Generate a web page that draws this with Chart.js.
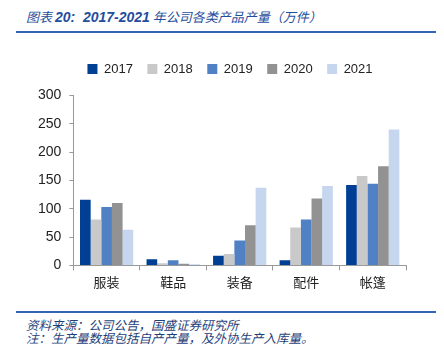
<!DOCTYPE html>
<html>
<head>
  <script src="https://cdn.jsdelivr.net/npm/chart.js"></script>
  <style>
    body { margin: 0; width: 444px; height: 346px; background: #fff; position: relative; font-family: "Noto Sans CJK SC", sans-serif; overflow: hidden; }
    .title { position: absolute; left: 26px; top: 7px; font-size: 13px; font-style: italic; color: #1f4e9e; white-space: nowrap; }
    .title b { font-family: "Liberation Sans", sans-serif; font-size: 14px; }
    .rule { position: absolute; left: 16px; width: 420px; height: 2px; background: #3465b4; }
    .note { position: absolute; left: 26px; font-size: 12.5px; font-style: italic; color: #1f3f7a; white-space: nowrap; }
    #box { position: absolute; left: 0; top: 44px; width: 444px; height: 250px; }
  </style>
</head>
<body>
  <div class="title">图表 <b>20:&nbsp; 2017-2021</b> 年公司各类产品产量（万件）</div>
  <div class="rule" style="top:31px"></div>
  <div id="box"><canvas id="chart"></canvas></div>
  <div class="rule" style="top:311px"></div>
  <div class="note" style="top:315px">资料来源：公司公告，国盛证券研究所</div>
  <div class="note" style="top:328px">注：生产量数据包括自产产量，及外协生产入库量。</div>

  <script>
    const categories = ['服装', '鞋品', '装备', '配件', '帐篷'];
    const years = ['2017', '2018', '2019', '2020', '2021'];
    const v2017 = [116, 11, 17, 9, 142];
    const v2018 = [81, 4, 20, 67, 158];
    const v2019 = [103, 9, 44, 81, 144];
    const v2020 = [110, 3, 71, 118, 175];
    const v2021 = [63, 2, 137, 140, 240];
    const colors = ['#003f94', '#c9c9c9', '#4f81c4', '#929292', '#c5d6ee'];

    const series = [v2017, v2018, v2019, v2020, v2021];

    // extra room under the legend, and nudge it right like the original
    const legendTweak = {
      id: 'legendTweak',
      beforeInit(chart) {
        const fit = chart.legend.fit;
        chart.legend.fit = function () {
          fit.bind(chart.legend)();
          this.height += 10;
        };
      },
      afterLayout(chart) {
        chart.legend.left += 12;
        chart.legend.right += 12;
      }
    };

    new Chart(document.getElementById('chart'), {
      type: 'bar',
      data: {
        labels: categories,
        datasets: years.map((y, i) => ({
          label: y,
          data: series[i],
          backgroundColor: colors[i],
          barPercentage: 1.0,
          categoryPercentage: 0.8
        }))
      },
      options: {
        responsive: true,
        maintainAspectRatio: false,
        animation: false,
        layout: { padding: { left: 30, right: 38, top: 4, bottom: 0 } },
        plugins: {
          legend: {
            position: 'top',
            labels: { boxWidth: 10, boxHeight: 10, padding: 14.5, color: '#222', font: { size: 13, family: 'Liberation Sans' } }
          },
          tooltip: { enabled: false }
        },
        scales: {
          x: {
            grid: { display: true, drawOnChartArea: false, drawTicks: true, tickLength: 5, color: '#999', offset: true },
            border: { color: '#999' },
            ticks: { color: '#222', font: { size: 13, family: 'Noto Sans CJK SC' }, padding: 4 }
          },
          y: {
            min: 0, max: 300,
            grid: { display: true, drawOnChartArea: false, drawTicks: true, tickLength: 4, color: '#999' },
            border: { color: '#999' },
            ticks: { stepSize: 50, color: '#222', font: { size: 14, family: 'Liberation Sans' }, padding: 8 }
          }
        }
      },
      plugins: [legendTweak]
    });
  </script>
</body>
</html>
